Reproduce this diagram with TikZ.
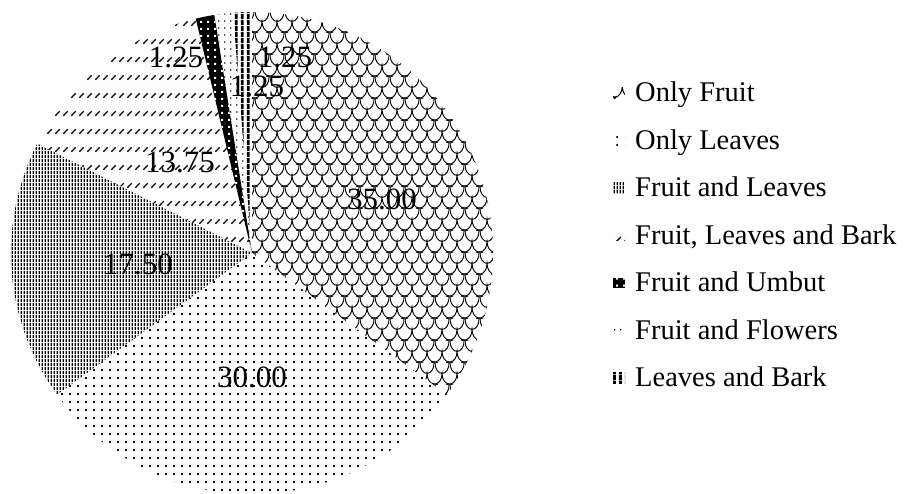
\documentclass[tikz,border=0pt]{standalone}
\usepackage{fontspec}
\setmainfont{Liberation Serif}
\usetikzlibrary{patterns}

% fish-scale pattern (Only Fruit)
\pgfdeclarepatternformonly{scales}{\pgfpointorigin}{\pgfpoint{15pt}{22pt}}{\pgfpoint{15pt}{22pt}}{%
  \pgfsetlinewidth{1pt}%
  \pgfpathmoveto{\pgfpoint{0pt}{22pt}}\pgfpatharc{180}{360}{7.5pt and 11pt}%
  \pgfpathmoveto{\pgfpoint{-7.5pt}{11pt}}\pgfpatharc{180}{360}{7.5pt and 11pt}\pgfpatharc{180}{360}{7.5pt and 11pt}%
  \pgfpathmoveto{\pgfpoint{-7.5pt}{33pt}}\pgfpatharc{180}{360}{7.5pt and 11pt}\pgfpatharc{180}{360}{7.5pt and 11pt}%
  \pgfusepath{stroke}}
% dot grid (Only Leaves)
\pgfdeclarepatternformonly{leafdots}{\pgfpointorigin}{\pgfpoint{8.4pt}{8.4pt}}{\pgfpoint{8.4pt}{8.4pt}}{%
  \pgfpathrectangle{\pgfpoint{3.4pt}{3.4pt}}{\pgfpoint{1.7pt}{1.7pt}}\pgfusepath{fill}}
% sparse dots (Fruit and Flowers)
\pgfdeclarepatternformonly{flowerdots}{\pgfpointorigin}{\pgfpoint{6pt}{7pt}}{\pgfpoint{6pt}{7pt}}{%
  \pgfpathrectangle{\pgfpoint{2.4pt}{2.8pt}}{\pgfpoint{1.4pt}{1.4pt}}\pgfusepath{fill}}
% thin vertical lines (Fruit and Leaves)
\pgfdeclarepatternformonly{thinvlines}{\pgfpointorigin}{\pgfpoint{3.1pt}{4pt}}{\pgfpoint{3.1pt}{4pt}}{%
  \pgfpathrectangle{\pgfpoint{0.7pt}{0pt}}{\pgfpoint{1.6pt}{4pt}}\pgfusepath{fill}}
% wide vertical bars (Leaves and Bark)
\pgfdeclarepatternformonly{widebars}{\pgfpointorigin}{\pgfpoint{6pt}{6pt}}{\pgfpoint{6pt}{6pt}}{%
  \pgfpathrectangle{\pgfpoint{1pt}{0pt}}{\pgfpoint{3.2pt}{6pt}}\pgfusepath{fill}}
% rows of short diagonal dashes (Fruit, Leaves and Bark)
\pgfdeclarepatternformonly{diagdash}{\pgfpointorigin}{\pgfpoint{7.5pt}{17.5pt}}{\pgfpoint{7.5pt}{17.5pt}}{%
  \pgfsetlinewidth{1.4pt}%
  \pgfpathmoveto{\pgfpoint{1.5pt}{6.5pt}}\pgfpathlineto{\pgfpoint{6pt}{11pt}}\pgfusepath{stroke}}
% white dots on black (Fruit and Umbut)
\pgfdeclarepatternformonly{whitedots}{\pgfpointorigin}{\pgfpoint{6.6pt}{6.6pt}}{\pgfpoint{6.6pt}{6.6pt}}{%
  \pgfpathrectangle{\pgfpoint{2.3pt}{2.3pt}}{\pgfpoint{2pt}{2pt}}\pgfusepath{fill}}

\tikzset{
  lbl/.style={font=\fontsize{31}{31}\selectfont, inner sep=0pt},
  legtxt/.style={font=\fontsize{28.5}{30}\selectfont, anchor=base west, inner sep=0pt},
  pFruit/.style={pattern=scales},
  pLeaves/.style={pattern=leafdots},
  pFL/.style={pattern=thinvlines},
  pFLB/.style={pattern=diagdash},
  pFlowers/.style={pattern=flowerdots},
  pLB/.style={pattern=widebars},
}

\begin{document}
\begin{tikzpicture}[x=1pt,y=1pt]
\useasboundingbox (0,0) rectangle (907,-493);
\def\R{241}
\coordinate (c) at (252,-253);

% slices, clockwise from the top
\fill[pFruit]   (c) -- ++(90:\R)    arc[start angle=90,    end angle=-36,    radius=\R] -- cycle;
\fill[pLeaves]  (c) -- ++(-36:\R)   arc[start angle=-36,   end angle=-144,   radius=\R] -- cycle;
\fill[pFL]      (c) -- ++(-144:\R)  arc[start angle=-144,  end angle=-207,   radius=\R] -- cycle;
\fill[pFLB]     (c) -- ++(-207:\R)  arc[start angle=-207,  end angle=-256.5, radius=\R] -- cycle;
\fill[black]    (c) -- ++(-256.5:\R) arc[start angle=-256.5,end angle=-261,  radius=\R] -- cycle;
\fill[pattern=whitedots, pattern color=white]
                (c) -- ++(-256.5:\R) arc[start angle=-256.5,end angle=-261,  radius=\R] -- cycle;
\fill[pFlowers] (c) -- ++(-261:\R)  arc[start angle=-261,  end angle=-265.5, radius=\R] -- cycle;
\fill[pLB]      (c) -- ++(-265.5:\R) arc[start angle=-265.5,end angle=-270,  radius=\R] -- cycle;

% data labels
\node[lbl] (lab1) at (382,-199) {35.00};
\node[lbl] (lab2) at (252,-377) {30.00};
\node[lbl] (lab3) at (138,-264) {17.50};
\node[lbl] (lab4) at (180,-162) {13.75};
\node[lbl] (lab5) at (176,-57)  {1.25};
\node[lbl] (lab6) at (257,-86)  {1.25};
\node[lbl] (lab7) at (285,-57)  {1.25};

% legend
\fill[pFruit]   (613,-87.5)  rectangle (625,-98);
\fill[pLeaves]  (613,-135)   rectangle (625,-145.5);
\fill[pFL]      (613,-182.5) rectangle (625,-193);
\fill[pFLB]     (613,-230)   rectangle (625,-240.5);
\fill[black]    (613,-277.5) rectangle (625,-288);
\fill[pattern=whitedots, pattern color=white] (613,-277.5) rectangle (625,-288);
\fill[pFlowers] (613,-325)   rectangle (625,-335.5);
\fill[pLB]      (613,-372.5) rectangle (625,-383);

\node[legtxt] (leg1) at (635,-101.5) {Only Fruit};
\node[legtxt] (leg2) at (635,-149)   {Only Leaves};
\node[legtxt] (leg3) at (635,-196.5) {Fruit and Leaves};
\node[legtxt] (leg4) at (635,-244)   {Fruit, Leaves and Bark};
\node[legtxt] (leg5) at (635,-291.5) {Fruit and Umbut};
\node[legtxt] (leg6) at (635,-339)   {Fruit and Flowers};
\node[legtxt] (leg7) at (635,-386.5) {Leaves and Bark};
\end{tikzpicture}
\end{document}
